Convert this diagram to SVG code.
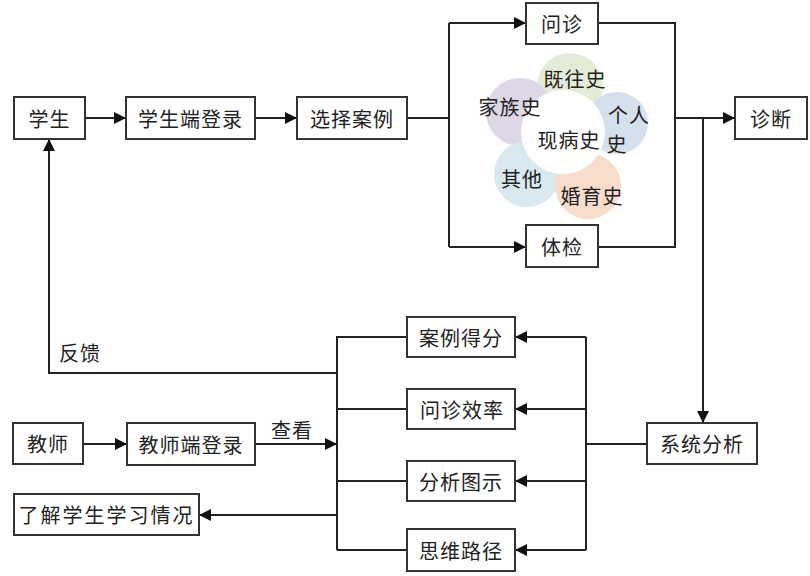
<svg xmlns="http://www.w3.org/2000/svg" width="810" height="576" viewBox="0 0 810 576">
<style>
.box{fill:#fff;stroke:#333;stroke-width:2}
.t{font-family:"Noto Sans CJK SC",sans-serif;font-size:20px;fill:#222;text-anchor:middle;dominant-baseline:central;letter-spacing:1px}
.c{fill:none;stroke:#222;stroke-width:2}
.ca{fill:none;stroke:#222;stroke-width:2;marker-end:url(#ah)}
</style>
<defs>
<marker id="ah" markerUnits="userSpaceOnUse" markerWidth="13" markerHeight="12" refX="12" refY="6" orient="auto">
<path d="M0,0 L12,6 L0,12 z" fill="#111"/>
</marker>
</defs>
<rect width="810" height="576" fill="#fff"/>
<g id="petals">
<circle cx="570" cy="86" r="33" fill="#e4ecd8"/>
<circle cx="520" cy="112" r="34" fill="#ddd7e6"/>
<circle cx="617" cy="123" r="31" fill="#d6e0ec"/>
<circle cx="527" cy="174" r="33" fill="#d8e9f0"/>
<circle cx="588" cy="186" r="33" fill="#f8ddcc"/>
<circle cx="563" cy="132" r="42" fill="#fff"/>
<text class="t" x="575" y="78">既往史</text>
<text class="t" x="510" y="106">家族史</text>
<text class="t" x="629" y="114">个人</text>
<text class="t" x="617" y="143">史</text>
<text class="t" x="569" y="139">现病史</text>
<text class="t" x="522" y="178">其他</text>
<text class="t" x="592" y="195">婚育史</text>
</g>
<g id="connectors">
<path class="ca" d="M85 118 H126"/>
<path class="ca" d="M255 118 H297"/>
<path class="c" d="M407 118 H449 M449 23 V247"/>
<path class="ca" d="M449 23 H526"/>
<path class="ca" d="M449 247 H526"/>
<path class="c" d="M598 23 H675 V247 H598"/>
<path class="ca" d="M675 118 H735"/>
<path class="ca" d="M703 118 V423"/>
<path class="c" d="M647 444 H586 M586 337 V550"/>
<path class="ca" d="M586 337 H515"/>
<path class="ca" d="M586 409 H515"/>
<path class="ca" d="M586 481 H515"/>
<path class="ca" d="M586 550 H515"/>
<path class="c" d="M337 336 V550 M407 337 H337 M407 409 H337 M407 481 H337 M407 550 H337"/>
<path class="ca" d="M337 373 H49 V139"/>
<path class="ca" d="M83 444 H127"/>
<path class="ca" d="M255 444 H337"/>
<path class="ca" d="M337 515 H199"/>
<text class="t" x="80" y="352">反馈</text>
<text class="t" x="292" y="429">查看</text>
</g>
<g id="n-student"><rect class="box" x="14" y="97" width="71" height="42"/><text class="t" x="49.5" y="118">学生</text></g>
<g id="n-slogin"><rect class="box" x="126" y="97" width="129" height="42"/><text class="t" x="190.5" y="118">学生端登录</text></g>
<g id="n-case"><rect class="box" x="297" y="97" width="110" height="42"/><text class="t" x="352" y="118">选择案例</text></g>
<g id="n-wenzhen"><rect class="box" x="526" y="3" width="72" height="41"/><text class="t" x="562" y="23.5">问诊</text></g>
<g id="n-tijian"><rect class="box" x="526" y="225" width="72" height="42"/><text class="t" x="562" y="246">体检</text></g>
<g id="n-diag"><rect class="box" x="735" y="97" width="72" height="42"/><text class="t" x="771" y="118">诊断</text></g>
<g id="n-sys"><rect class="box" x="647" y="423" width="110" height="41"/><text class="t" x="702" y="443.5">系统分析</text></g>
<g id="n-score"><rect class="box" x="407" y="317" width="108" height="40"/><text class="t" x="461" y="337">案例得分</text></g>
<g id="n-eff"><rect class="box" x="407" y="389" width="108" height="40"/><text class="t" x="462" y="409">问诊效率</text></g>
<g id="n-chart"><rect class="box" x="407" y="461" width="108" height="40"/><text class="t" x="461" y="481">分析图示</text></g>
<g id="n-path"><rect class="box" x="407" y="529" width="108" height="42"/><text class="t" x="461" y="550">思维路径</text></g>
<g id="n-teacher"><rect class="box" x="13" y="423" width="70" height="41"/><text class="t" x="48" y="443.5">教师</text></g>
<g id="n-tlogin"><rect class="box" x="127" y="423" width="128" height="42"/><text class="t" x="191" y="444">教师端登录</text></g>
<g id="n-know"><rect class="box" x="14" y="494" width="185" height="41"/><text class="t" x="106.5" y="514.5" style="letter-spacing:2px">了解学生学习情况</text></g>
</svg>
